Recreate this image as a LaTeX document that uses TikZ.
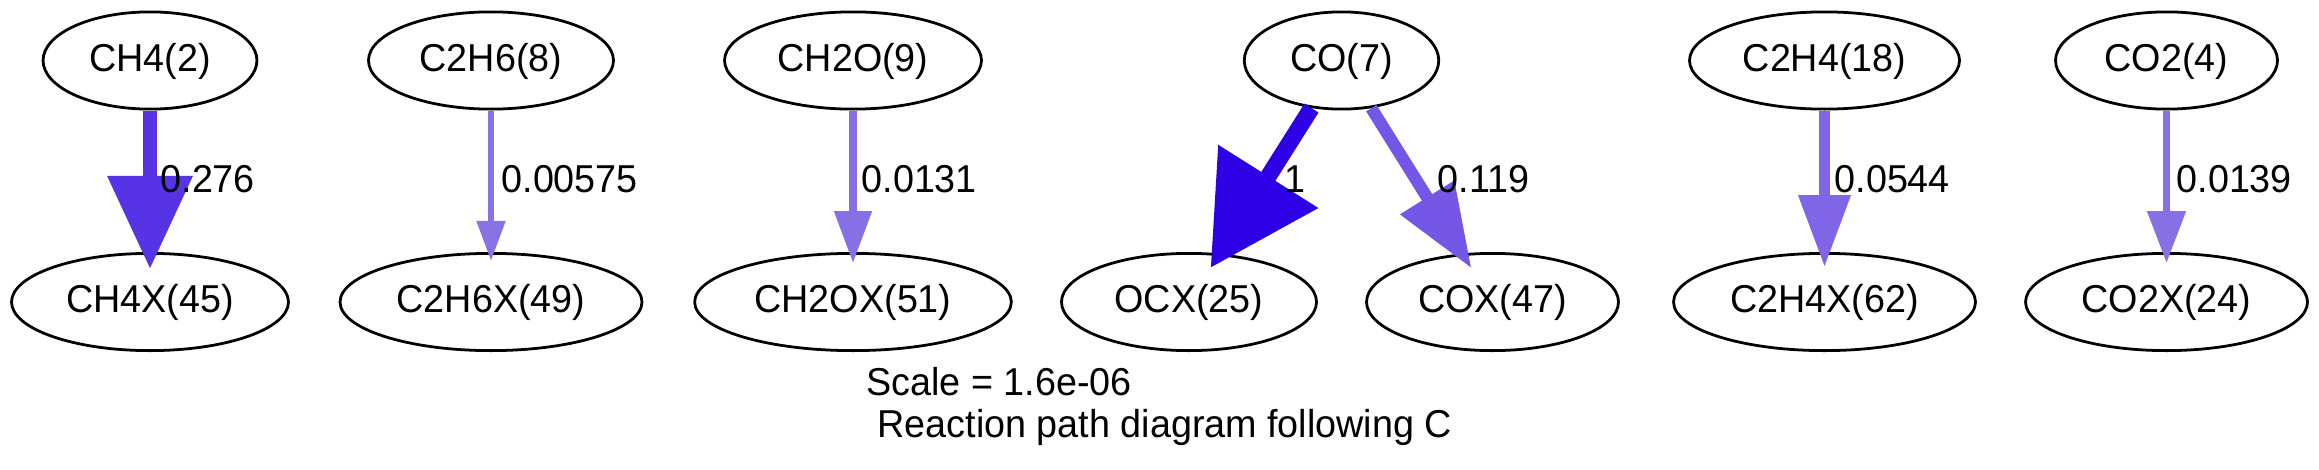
\documentclass[tikz,border=0pt]{standalone}
\usepackage{fontspec}
\setmainfont{Liberation Sans}[FakeStretch=0.97]
\usetikzlibrary{arrows.meta}
\usetikzlibrary{shapes.geometric}

\definecolor{fluxA}{RGB}{46,0,230}
\definecolor{fluxB}{RGB}{87,51,230}
\definecolor{fluxC}{RGB}{116,87,230}
\definecolor{fluxD}{RGB}{128,102,230}
\definecolor{fluxE}{RGB}{135,112,230}
\definecolor{fluxF}{RGB}{135,112,230}
\definecolor{fluxG}{RGB}{137,113,230}

\tikzset{
	species/.style={draw, ellipse, line width=1pt, minimum height=35pt, inner sep=2pt,
		text height=10.2pt, text depth=2.5pt, font=\fontsize{14}{16}\selectfont},
	txt/.style={anchor=base west, inner sep=0pt, font=\fontsize{14}{16}\selectfont},
	flux/.style n args={5}{draw=#1, line width=#2,
		-{Triangle[length=#3,width=#4]}, shorten >=-#5},
}

\begin{document}
\begin{tikzpicture}[x=0.36pt, y=-0.36pt]
	\useasboundingbox (0,0) rectangle (2319,469);
	
	\node[species, minimum width=77pt] (ch4) at (150,60.5) {CH4(2)};
	\node[species, minimum width=99.7pt] (ch4x) at (150,302) {CH4X(45)};
	\node[species, minimum width=88.2pt] (c2h6) at (491,60.5) {C2H6(8)};
	\node[species, minimum width=108.7pt] (c2h6x) at (491,302) {C2H6X(49)};
	\node[species, minimum width=92.5pt] (ch2o) at (853,60.5) {CH2O(9)};
	\node[species, minimum width=114pt] (ch2ox) at (853,302) {CH2OX(51)};
	\node[species, minimum width=70pt] (co) at (1341.5,60.5) {CO(7)};
	\node[species, minimum width=91.8pt] (ocx) at (1189,302) {OCX(25)};
	\node[species, minimum width=90.7pt] (cox) at (1492.5,302) {COX(47)};
	\node[species, minimum width=97.2pt] (c2h4) at (1824.5,60.5) {C2H4(18)};
	\node[species, minimum width=108.7pt] (c2h4x) at (1824.5,302) {C2H4X(62)};
	\node[species, minimum width=79.9pt] (co2) at (2166.5,60.5) {CO2(4)};
	\node[species, minimum width=101.5pt] (co2x) at (2166.5,302) {CO2X(24)};
	
	\draw[flux={fluxB}{5.03pt}{33.5pt}{29.5pt}{6.1pt}] (ch4) -- (ch4x);
	\draw[flux={fluxG}{2.1pt}{14.4pt}{10pt}{3.2pt}] (c2h6) -- (c2h6x);
	\draw[flux={fluxF}{2.73pt}{18.7pt}{13pt}{4pt}] (ch2o) -- (ch2ox);
	\draw[flux={fluxA}{6pt}{38.9pt}{41pt}{6.1pt}] (co) -- (ocx);
	\draw[flux={fluxC}{4.39pt}{30.1pt}{21.8pt}{6.3pt}] (co) -- (cox);
	\draw[flux={fluxD}{3.8pt}{25.9pt}{18pt}{5.4pt}] (c2h4) -- (c2h4x);
	\draw[flux={fluxE}{2.77pt}{18.7pt}{13.3pt}{4pt}] (co2) -- (co2x);
	
	\node[txt] (lch4) at (160,192) {0.276};
	\node[txt] (lc2h6) at (501,192) {0.00575};
	\node[txt] (lch2o) at (861,192) {0.0131};
	\node[txt] (locx) at (1284,192) {1};
	\node[txt] (lcox) at (1437,192) {0.119};
	\node[txt] (lc2h4) at (1834,192) {0.0544};
	\node[txt] (lco2) at (2176,192) {0.0139};
	
	\node[txt] (scale) at (866,395) {Scale = 1.6e-06};
	\node[txt] (title) at (877,437) {Reaction path diagram following C};
\end{tikzpicture}
\end{document}
